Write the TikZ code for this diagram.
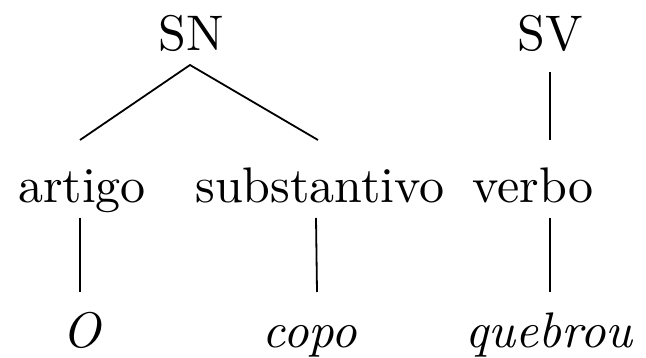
\documentclass[tikz,border=0pt]{standalone}
\newcommand\txfive[1]{\scalebox{5}{#1}}
\begin{document}
\begin{tikzpicture}[x=1pt,y=-1pt,
  lbl/.style={anchor=base,inner sep=0pt,font=\fontsize{10}{12}\selectfont},
  wrd/.style={lbl,font=\fontsize{10}{12}\selectfont\itshape},
  edge/.style={line width=1.8pt}]
\useasboundingbox (0,0) rectangle (646,358);
\node[lbl] (SN) at (191,51) {\txfive{SN}};
\node[lbl] (SV) at (550,51) {\txfive{SV}};
\node[lbl] (art) at (82,203) {\txfive{artigo}};
\node[lbl] (sub) at (320,203) {\txfive{substantivo}};
\node[lbl] (verb) at (533,203) {\txfive{verbo}};
\node[wrd] (O) at (82,348) {\txfive{O}};
\node[wrd] (copo) at (310,348) {\txfive{copo}};
\node[wrd] (queb) at (549,348) {\txfive{quebrou}};
\coordinate (snb) at (190,65);
\coordinate (artt) at (80,140);
\coordinate (subt) at (318,140);
\coordinate (svb) at (550,72);
\coordinate (verbt) at (550,140);
\coordinate (artb) at (80,218);
\coordinate (Ot) at (80,292);
\coordinate (subb) at (316,218);
\coordinate (copot) at (317,292);
\coordinate (verbb) at (550,218);
\coordinate (quebt) at (550,292);
\draw[edge] (artt) -- (snb) -- (subt);
\draw[edge] (svb) -- (verbt);
\draw[edge] (artb) -- (Ot);
\draw[edge] (subb) -- (copot);
\draw[edge] (verbb) -- (quebt);
\end{tikzpicture}
\end{document}
